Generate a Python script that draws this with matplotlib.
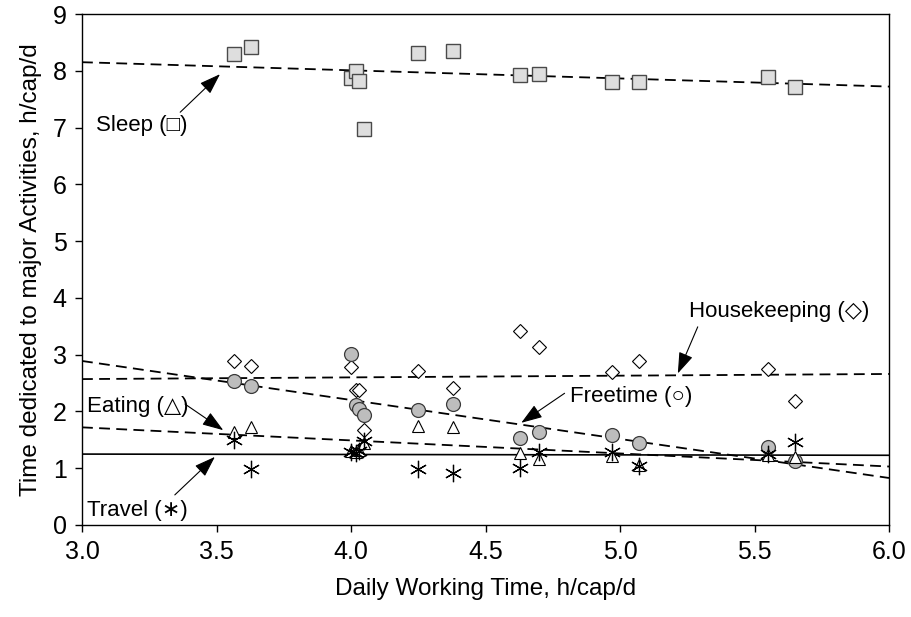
import matplotlib
matplotlib.use("Agg")
import matplotlib.pyplot as plt
import numpy as np

plt.rcParams['font.family'] = ['Liberation Sans', 'DejaVu Sans']

# daily working time per country, h/cap/d
work_time = [3.565, 3.63, 4.00, 4.02, 4.03, 4.05, 4.25, 4.38, 4.63, 4.70, 4.97, 5.07, 5.55, 5.65]

sleep = [8.29, 8.41, 7.88, 8.00, 7.82, 6.97, 8.32, 8.35, 7.92, 7.95, 7.80, 7.80, 7.89, 7.72]
housekeeping = [2.89, 2.80, 2.79, 2.38, 2.37, 1.67, 2.72, 2.42, 3.42, 3.14, 2.69, 2.89, 2.74, 2.18]
freetime = [2.54, 2.45, 3.02, 2.11, 2.04, 1.93, 2.02, 2.13, 1.54, 1.64, 1.59, 1.44, 1.38, 1.12]
eating = [1.64, 1.72, 1.30, 1.28, 1.32, 1.44, 1.75, 1.73, 1.27, 1.17, 1.21, 1.05, 1.23, 1.20]
travel = [1.50, 0.99, 1.29, 1.27, 1.30, 1.48, 0.98, 0.92, 1.01, 1.29, 1.29, 1.04, 1.25, 1.47]

# linear trends (slope, intercept)
trend_slope = [-0.143, 0.030, -0.687, -0.230, -0.007]
trend_intercept = [8.58, 2.48, 4.95, 2.41, 1.27]

fig = plt.figure(figsize=(9.11, 6.17), dpi=100)
ax = fig.add_axes([82 / 911, 1 - 525 / 617, 807 / 911, 511 / 617])
ax.set_xlim(3.0, 6.0)
ax.set_ylim(0, 9)

# trend lines
xs = np.array(ax.get_xlim())
styles = ['dashed', 'dashed', 'dashed', 'dashed', 'solid']
for k in range(5):
    ys = trend_slope[k] * xs + trend_intercept[k]
    if styles[k] == 'solid':
        ax.plot(xs, ys, color='black', lw=1.2, zorder=2)
    else:
        ax.plot(xs, ys, color='black', lw=1.3, dashes=(6, 3.5), zorder=2)

# points
ax.plot(work_time, sleep, 's', ms=9.5, mfc='#dedede', mec='#4a4a4a', mew=1.0, zorder=3)
ax.plot(work_time, housekeeping, 'D', ms=7.5, mfc='white', mec='black', mew=0.8, zorder=3)
ax.plot(work_time, freetime, 'o', ms=10, mfc='#bdbdbd', mec='#3a3a3a', mew=0.9, zorder=3)
ax.plot(work_time, eating, '^', ms=8, mfc='white', mec='black', mew=0.8, zorder=3)
ax.plot(work_time, travel, marker=(6, 2, 0), ls='none', ms=12.5, mec='black', mew=0.9, zorder=3)

# labels with arrows
arrow = dict(arrowstyle='-|>,head_length=1.3,head_width=0.45', color='black', lw=0.8,
             shrinkA=0, shrinkB=0, mutation_scale=10)
ax.annotate('', xy=(3.513, 7.94), xytext=(3.365, 7.27), arrowprops=arrow)
ax.text(3.052, 7.04, 'Sleep (□)', fontsize=16, va='center', ha='left')

ax.annotate('', xy=(3.525, 1.67), xytext=(3.383, 2.13), arrowprops=arrow)
ax.text(3.02, 2.08, 'Eating (△)', fontsize=16, va='center', ha='left')

ax.annotate('', xy=(3.494, 1.20), xytext=(3.345, 0.53), arrowprops=arrow)
ax.text(3.02, 0.26, 'Travel (∗)', fontsize=16, va='center', ha='left')

ax.annotate('', xy=(5.215, 2.67), xytext=(5.289, 3.49), arrowprops=arrow)
ax.text(5.258, 3.755, 'Housekeeping (◇)', fontsize=16, va='center', ha='left')

ax.annotate('', xy=(4.633, 1.80), xytext=(4.794, 2.32), arrowprops=arrow)
ax.text(4.813, 2.26, 'Freetime (○)', fontsize=16, va='center', ha='left')

ax.set_xticks(np.arange(3.0, 6.01, 0.5))
ax.set_xticklabels(['3.0', '3.5', '4.0', '4.5', '5.0', '5.5', '6.0'])
ax.set_yticks(range(0, 10))
ax.tick_params(axis='both', direction='out', length=5, width=1, labelsize=18, pad=6)
for s in ax.spines.values():
    s.set_linewidth(1.0)

ax.set_xlabel('Daily Working Time, h/cap/d', fontsize=17.5, labelpad=10)
ax.set_ylabel('Time dedicated to major Activities, h/cap/d', fontsize=17.5, labelpad=8)

fig.savefig('out.png', dpi=100)
